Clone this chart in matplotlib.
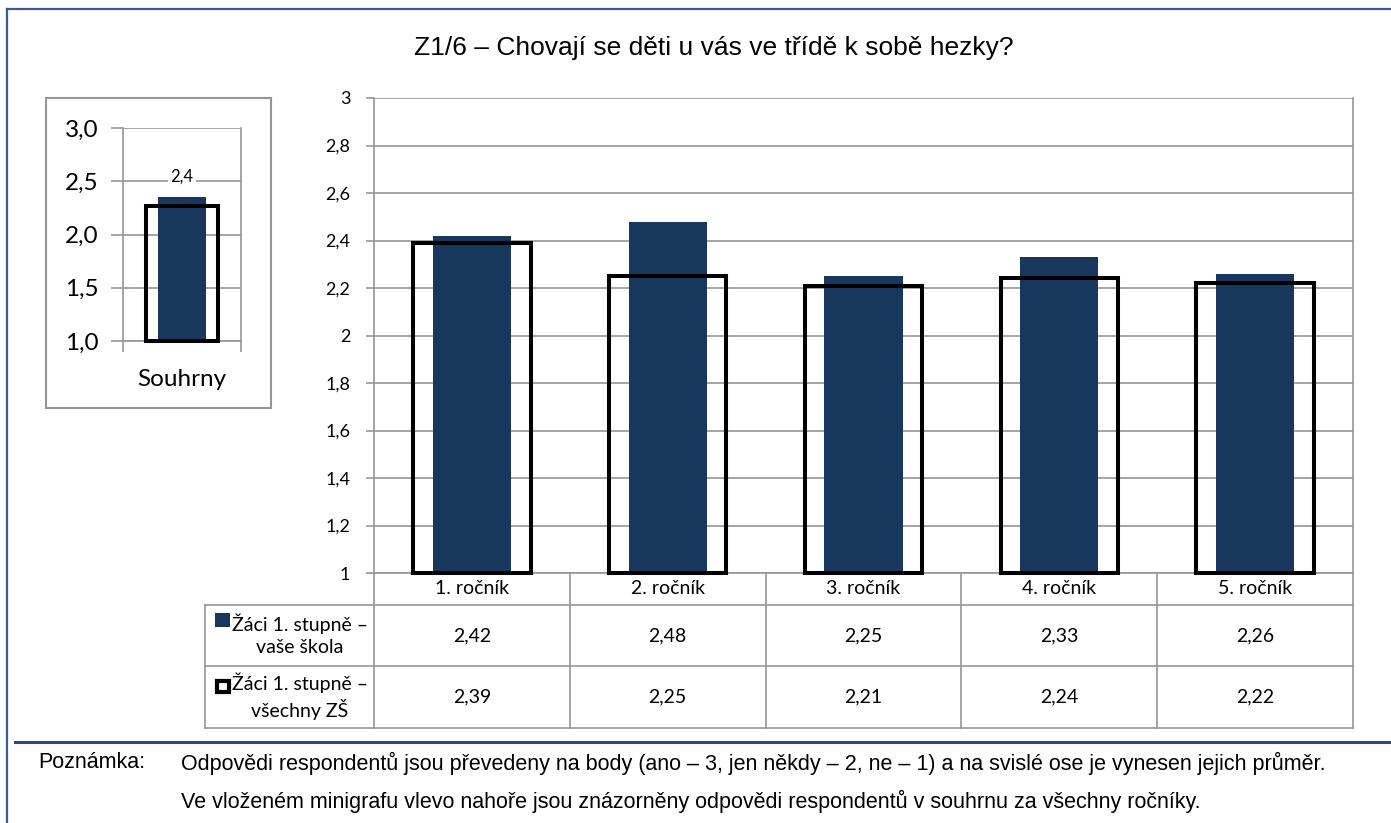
import matplotlib.pyplot as plt
from matplotlib.patches import Rectangle
import numpy as np

plt.rcParams['font.family'] = ['Lato', 'DejaVu Sans']

W, H = 1391, 823

# data
categories = ['1. ročník', '2. ročník', '3. ročník', '4. ročník', '5. ročník']
skola = [2.42, 2.48, 2.25, 2.33, 2.26]
vsechny = [2.39, 2.25, 2.21, 2.24, 2.22]
series_names = ['Žáci 1. stupně –\nvaše škola', 'Žáci 1. stupně –\nvšechny ZŠ']
main_ticks = [1.0, 1.2, 1.4, 1.6, 1.8, 2.0, 2.2, 2.4, 2.6, 2.8, 3.0]

souhrn_label = ['Souhrny']
souhrn_skola = [2.35]
souhrn_vsechny = [2.27]
souhrn_text = ['2,4']
inset_ticks = [1.0, 1.5, 2.0, 2.5, 3.0]

title = 'Z1/6 – Chovají se děti u vás ve třídě k sobě hezky?'
note_head = 'Poznámka:'
note_lines = ['Odpovědi respondentů jsou převedeny na body (ano – 3, jen někdy – 2, ne – 1) a na svislé ose je vynesen jejich průměr.',
              'Ve vloženém minigrafu vlevo nahoře jsou znázorněny odpovědi respondentů v souhrnu za všechny ročníky.']

BLUE = '#17375E'
GRID = '#969696'
FRAME = '#385D8A'
ARIAL = ['Liberation Sans', 'DejaVu Sans']


def box(l, t, r, b):
    return [l / W, 1 - b / H, (r - l) / W, (b - t) / H]


def cz(v, nd=None):
    s = f'{v:.{nd}f}' if nd is not None else f'{v:g}'
    return s.replace('.', ',')


fig = plt.figure(figsize=(W / 100, H / 100), dpi=100)

# overlay in pixel coordinates for frame, table and notes
ov = fig.add_axes([0, 0, 1, 1], zorder=-1)
ov.set_xlim(0, W)
ov.set_ylim(H, 0)
ov.axis('off')

ov.plot([7, 7], [9, H], color=FRAME, lw=1.6)
ov.plot([7, W], [9, 9], color=FRAME, lw=1.6)
ov.plot([15, W], [742, 742], color='#2C4D75', lw=2.2)

ov.text(714, 48, title, ha='center', va='center', fontsize=19, family=ARIAL)

ov.text(38, 763, note_head, ha='left', va='center', fontsize=15.5, family=ARIAL)
for i, line in enumerate(note_lines):
    ov.text(181, 763 + 38 * i, line, ha='left', va='center', fontsize=15.5, family=ARIAL)

# main chart
L, R, T, B = 374, 1353, 98, 573
ax = fig.add_axes(box(L, T, R, B))
x = np.arange(len(categories))
ax.bar(x, np.array(skola) - 1, bottom=1, width=0.4, color=BLUE, zorder=2)
ax.bar(x, np.array(vsechny) - 1, bottom=1, width=0.6, fill=False,
       edgecolor='black', linewidth=2.9, zorder=3, clip_on=False)
ax.set_xlim(-0.5, len(categories) - 0.5)
ax.set_ylim(1, 3)
ax.set_yticks(main_ticks)
ax.set_yticklabels([cz(v) for v in main_ticks])
ax.set_xticks([])
ax.set_axisbelow(True)
ax.yaxis.grid(True, color=GRID, lw=1.2)
ax.tick_params(axis='y', length=6, width=1.2, color=GRID, pad=11, labelsize=13)
ax.spines['top'].set_visible(False)
for s in ['left', 'right', 'bottom']:
    ax.spines[s].set_color(GRID)
    ax.spines[s].set_linewidth(1.2)

# data table under the chart
rows_y = [573, 605, 666, 728]
col_x = [L + (R - L) * k / len(categories) for k in range(len(categories) + 1)]
for cx in col_x:
    ov.plot([cx, cx], [rows_y[0], rows_y[-1]], color=GRID, lw=1.2)
ov.plot([205, 205], [rows_y[1], rows_y[-1]], color=GRID, lw=1.2)
for ry in rows_y[1:]:
    ov.plot([205, R], [ry, ry], color=GRID, lw=1.2)

for i, cat in enumerate(categories):
    cxm = (col_x[i] + col_x[i + 1]) / 2
    ov.text(cxm, 589, cat, ha='center', va='center', fontsize=14)
    for j, vals in enumerate([skola, vsechny]):
        ym = (rows_y[j + 1] + rows_y[j + 2]) / 2
        ov.text(cxm, ym, cz(vals[i], 2), ha='center', va='center', fontsize=14)

for j, name in enumerate(series_names):
    ym = (rows_y[j + 1] + rows_y[j + 2]) / 2
    ov.text(300, ym - 1, name, ha='center', va='center', fontsize=14, linespacing=1.35)
ov.add_patch(Rectangle((215, 613), 15, 14, facecolor=BLUE, edgecolor='none'))
ov.add_patch(Rectangle((217, 681), 12, 11, facecolor='white', edgecolor='black', lw=3))

# inset mini chart
ov.add_patch(Rectangle((46, 98), 225, 310, facecolor='white', edgecolor=GRID, lw=1.5))
ax_in = fig.add_axes(box(123, 128, 241, 341))
ax_in.bar([0], np.array(souhrn_skola) - 1, bottom=1, width=0.415, color=BLUE, zorder=2)
ax_in.bar([0], np.array(souhrn_vsechny) - 1, bottom=1, width=0.61, fill=False,
          edgecolor='black', linewidth=2.9, zorder=3, clip_on=False)
for v, t in zip(souhrn_skola, souhrn_text):
    ax_in.annotate(t, xy=(0, v), xytext=(0, 15), textcoords='offset points',
                   ha='center', va='center', fontsize=12,
                   bbox=dict(facecolor='white', edgecolor='none', pad=2), zorder=4)
ax_in.set_xlim(-0.5, 0.5)
ax_in.set_ylim(1, 3)
ax_in.set_yticks(inset_ticks)
ax_in.set_yticklabels([cz(v, 1) for v in inset_ticks])
ax_in.set_xticks([0])
ax_in.set_xticklabels(souhrn_label)
ax_in.set_xticks([-0.5, 0.5], minor=True)
ax_in.set_axisbelow(True)
ax_in.yaxis.grid(True, color=GRID, lw=1.2)
ax_in.tick_params(axis='y', length=9, width=1.2, color=GRID, pad=8.5, labelsize=17.5)
ax_in.tick_params(axis='x', which='major', length=0, pad=20, labelsize=17.5)
ax_in.tick_params(axis='x', which='minor', length=8, width=1.2, color=GRID)
ax_in.spines['top'].set_visible(False)
for s in ['left', 'right', 'bottom']:
    ax_in.spines[s].set_color(GRID)
    ax_in.spines[s].set_linewidth(1.2)

fig.savefig('out.png', dpi=100)
